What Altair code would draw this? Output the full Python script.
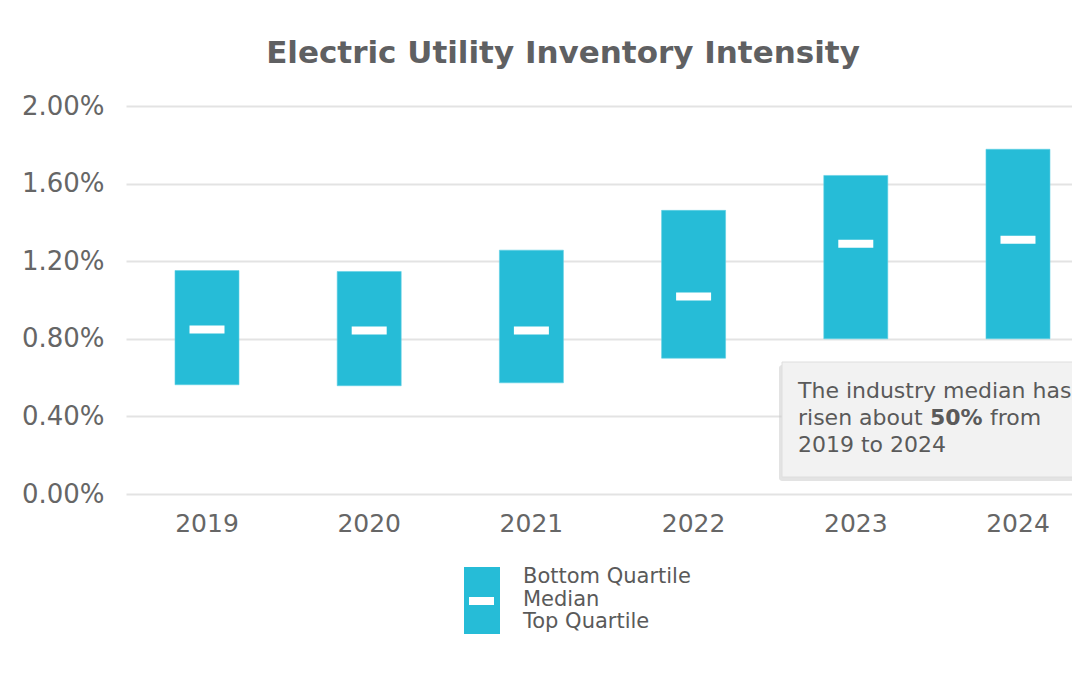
import altair as alt
import pandas as pd

years = ["2019", "2020", "2021", "2022", "2023", "2024"]
bottom_quartile = [0.563, 0.558, 0.573, 0.700, 0.800, 0.800]
top_quartile = [1.152, 1.147, 1.257, 1.462, 1.642, 1.777]
median = [0.848, 0.843, 0.843, 1.018, 1.290, 1.310]
y_ticks = [0.0, 0.4, 0.8, 1.2, 1.6, 2.0]

legend_items = ["Bottom Quartile", "Median", "Top Quartile"]
note_lines = ["The industry median has", "2019 to 2024"]

df = pd.DataFrame({"year": years, "low": bottom_quartile, "high": top_quartile, "med": median})

BAR = "#26bcd7"
TXT = "#5a5a5a"
FONT = "DejaVu Sans"

x_enc = alt.X("year:O", title=None,
              scale=alt.Scale(paddingInner=0.6054, paddingOuter=0.2189, align=0.69),
              axis=alt.Axis(labelAngle=0, domain=False, ticks=False, labelFontSize=25,
                            labelColor="#666666", labelPadding=17, labelFont=FONT, grid=False))
y_scale = alt.Scale(domain=[0, 2.0], nice=False, zero=True)

base = alt.Chart(df)

bars = base.mark_bar(color=BAR, stroke="#5fd0e4", strokeWidth=0.6).encode(
    x=x_enc,
    y=alt.Y("low:Q", scale=y_scale, title=None,
            axis=alt.Axis(values=y_ticks, labelExpr="format(datum.value, '.2f') + '%'",
                          domain=False, ticks=False, labelFontSize=26, labelColor="#666666",
                          labelPadding=22, labelFont=FONT, gridColor="#e3e3e3", gridWidth=2)),
    y2="high:Q",
)

meds = base.mark_tick(color="white", size=35, thickness=8, opacity=1).encode(
    x="year:O",
    y=alt.Y("med:Q", scale=y_scale),
)

# Annotation box
shadow = alt.Chart(pd.DataFrame({"k": [0]})).mark_rect(color="#cccccc", opacity=0.55, cornerRadius=3).encode(
    x=alt.value(653), x2=alt.value(1000), y=alt.value(259), y2=alt.value(375))
box = alt.Chart(pd.DataFrame({"k": [0]})).mark_rect(color="#f2f2f2", stroke="#dedede", strokeWidth=1).encode(
    x=alt.value(656), x2=alt.value(1000), y=alt.value(256), y2=alt.value(371))

def txt(s, x, y, size=22, weight="normal", align="left", color=TXT):
    return alt.Chart(pd.DataFrame({"t": [s]})).mark_text(
        align=align, baseline="middle", fontSize=size, font=FONT, fontWeight=weight, color=color
    ).encode(text="t:N", x=alt.value(x), y=alt.value(y))

note = [
    txt(note_lines[0], 672, 285),
    txt("risen about", 672, 312),
    txt("50%", 804, 312, weight="bold"),
    txt("from", 864, 312),
    txt(note_lines[1], 672, 339),
]

# Legend
leg_rect = alt.Chart(pd.DataFrame({"k": [0]})).mark_rect(color=BAR).encode(
    x=alt.value(338), x2=alt.value(374), y=alt.value(461), y2=alt.value(528))
leg_dash = alt.Chart(pd.DataFrame({"k": [0]})).mark_rect(color="white").encode(
    x=alt.value(343), x2=alt.value(368), y=alt.value(491), y2=alt.value(499))
leg_text = [
    txt(legend_items[0], 397, 471, size=21, weight=500),
    txt(legend_items[1], 397, 494, size=21, weight=500),
    txt(legend_items[2], 397, 516, size=21, weight=500),
]

chart = alt.layer(bars, meds, shadow, box, *note, leg_rect, leg_dash, *leg_text).properties(
    width=946, height=388,
    title=alt.TitleParams("Electric Utility Inventory Intensity", fontSize=31, font=FONT,
                          fontWeight="bold", color="#5f6062", anchor="middle", dx=-36, dy=4,
                          offset=3, baseline="alphabetic"),
    autosize=alt.AutoSizeParams(type="none"),
    padding={"left": 118, "top": 98, "right": 0, "bottom": 170},
).configure_view(stroke=None)

chart.save("out.html", embed_options={"renderer": "svg", "actions": False})
